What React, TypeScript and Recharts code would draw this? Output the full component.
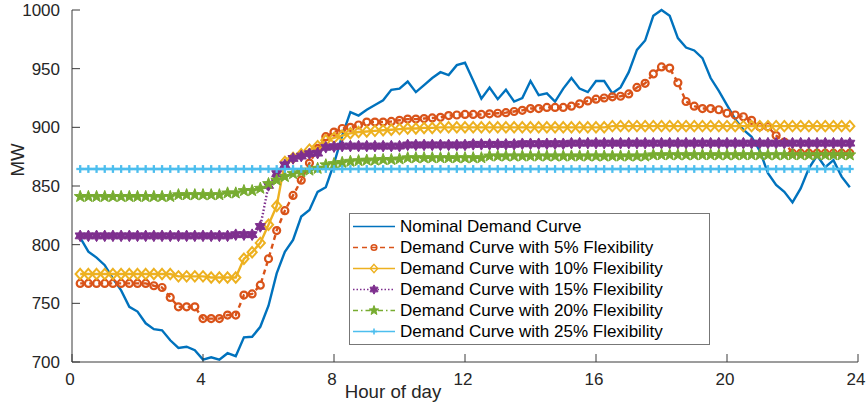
import { ComposedChart, Line, XAxis, YAxis, Legend, Label } from "recharts"

// 15-minute samples
const hours = [
	0.25, 0.5, 0.75, 1, 1.25, 1.5, 1.75, 2, 2.25, 2.5, 2.75, 3, 3.25, 3.5, 3.75, 4,
	4.25, 4.5, 4.75, 5, 5.25, 5.5, 5.75, 6, 6.25, 6.5, 6.75, 7, 7.25, 7.5, 7.75, 8,
	8.25, 8.5, 8.75, 9, 9.25, 9.5, 9.75, 10, 10.25, 10.5, 10.75, 11, 11.25, 11.5, 11.75, 12,
	12.25, 12.5, 12.75, 13, 13.25, 13.5, 13.75, 14, 14.25, 14.5, 14.75, 15, 15.25, 15.5, 15.75, 16,
	16.25, 16.5, 16.75, 17, 17.25, 17.5, 17.75, 18, 18.25, 18.5, 18.75, 19, 19.25, 19.5, 19.75, 20,
	20.25, 20.5, 20.75, 21, 21.25, 21.5, 21.75, 22, 22.25, 22.5, 22.75, 23, 23.25, 23.5, 23.75,
]

const nominal = [
	806, 794, 789, 782.5, 771, 761, 747, 743, 733, 728, 727, 718.5, 712, 713, 710, 702,
	704, 702, 707.5, 705, 721, 721.5, 730, 748, 775.5, 794, 804, 824, 829.5, 845, 849, 869,
	893, 913, 910, 915, 919, 923, 932, 933, 939, 930, 936, 942, 947, 944.5, 953, 955,
	940, 924.5, 934, 924, 932, 922, 925, 939.5, 927.5, 929, 922, 933, 942, 933, 930, 939.5,
	939.5, 929, 934, 947, 966, 974, 995, 1000, 995, 976, 968, 965.5, 959, 942, 931, 919,
	907, 898, 892, 880, 861, 851, 845, 836, 848, 865, 876, 866, 872, 858, 849,
]

const flex5 = [
	767, 767, 767, 767, 767, 767, 767, 767, 767, 765, 763.5, 755, 747, 747, 747, 737,
	737, 737, 740, 740, 757, 758, 765.5, 788, 812, 829, 842, 855, 869.5, 882, 892, 896,
	899, 900, 902, 904.5, 904.5, 904.5, 905, 906, 907, 907, 907.5, 908, 908.5, 910, 910.5, 911,
	911, 911, 911.5, 912, 912.5, 913.5, 914.5, 916, 916, 917, 917, 917, 918, 920, 922.5, 924,
	925, 926, 926.5, 928.5, 934, 937.5, 945.5, 951.5, 950.5, 938, 922, 918, 916, 916, 915, 912,
	910.5, 909, 906, 900.5, 900.5, 893, 887.5, 878, 878, 878, 878, 878, 878, 878, 878,
]

const flex10 = [
	775, 775, 775, 775, 775, 775, 775, 775, 775, 775, 775, 775, 773, 773, 773, 773,
	772, 772, 772, 772, 788, 793.5, 801.5, 817, 833, 870.5, 874, 877, 881, 884, 889, 891,
	893, 895, 896, 896.5, 897, 897.5, 898, 898.5, 899, 899, 899.5, 899.5, 900, 900, 900, 900,
	900, 900, 900, 900, 900, 900, 900, 900, 900, 900, 900, 900, 900, 900, 900, 900,
	900, 901, 901, 901, 901, 901, 901, 901, 901, 901, 901, 901, 901, 901, 901, 901,
	901, 901, 901, 901, 901, 901, 901, 901, 901, 901, 901, 901, 901, 901, 901,
]

const flex15 = [
	807.5, 807.5, 807.5, 807.5, 807.5, 807.5, 807.5, 807.5, 807.5, 807.5, 807.5, 807.5, 807.5, 807.5, 807.5, 807.5,
	807.5, 807.5, 807.5, 808.5, 808.5, 808.5, 815.5, 850.5, 860.5, 868, 873.5, 875.5, 877.5, 878, 883, 883.5,
	884, 884, 884, 884, 884, 884, 884, 884, 885, 885, 885, 885, 885, 885, 885, 885,
	885.5, 885.5, 885.5, 885.5, 885.5, 885.5, 886, 886, 886, 886, 886, 886, 886.5, 886.5, 886.5, 886.5,
	886.5, 886.5, 886.5, 886.5, 886.5, 886.5, 886.5, 886.5, 886.5, 886.5, 886.5, 886.5, 886.5, 886.5, 886.5, 886.5,
	886.5, 886.5, 886.5, 886.5, 886.5, 886.5, 886.5, 886.5, 886.5, 886.5, 886.5, 886.5, 886.5, 886.5, 886.5,
]

const flex20 = [
	841, 841, 841, 841, 841, 841, 841, 841, 841, 841, 841, 841, 842.5, 842.5, 842.5, 842.5,
	842.5, 842.5, 844, 844, 846, 846, 848, 852, 855, 858, 860.5, 862, 863.5, 865, 868, 869,
	870, 871, 871.5, 872, 872, 872.5, 872.5, 873, 874, 874, 874, 874, 874, 874, 874, 874,
	874, 874, 875.5, 875.5, 875.5, 875.5, 875.5, 875.5, 875.5, 875.5, 875.5, 875.5, 875.5, 875.5, 875.5, 875.5,
	875.5, 875.5, 875.5, 875.5, 875.5, 875.5, 876.5, 876.5, 876.5, 876.5, 876.5, 876.5, 876.5, 876.5, 876.5, 876.5,
	876.5, 876.5, 876.5, 876.5, 876.5, 876.5, 876.5, 876.5, 876.5, 876.5, 876.5, 876.5, 876.5, 876.5, 876.5,
]

const flex25 = [
	864.5, 864.5, 864.5, 864.5, 864.5, 864.5, 864.5, 864.5, 864.5, 864.5, 864.5, 864.5, 864.5, 864.5, 864.5, 864.5,
	864.5, 864.5, 864.5, 864.5, 864.5, 864.5, 864.5, 864.5, 864.5, 864.5, 864.5, 864.5, 864.5, 864.5, 864.5, 864.5,
	864.5, 864.5, 864.5, 864.5, 864.5, 864.5, 864.5, 864.5, 864.5, 864.5, 864.5, 864.5, 864.5, 864.5, 864.5, 864.5,
	864.5, 864.5, 864.5, 864.5, 864.5, 864.5, 864.5, 864.5, 864.5, 864.5, 864.5, 864.5, 864.5, 864.5, 864.5, 864.5,
	864.5, 864.5, 864.5, 864.5, 864.5, 864.5, 864.5, 864.5, 864.5, 864.5, 864.5, 864.5, 864.5, 864.5, 864.5, 864.5,
	864.5, 864.5, 864.5, 864.5, 864.5, 864.5, 864.5, 864.5, 864.5, 864.5, 864.5, 864.5, 864.5, 864.5, 864.5,
]

const xTicks = [0, 4, 8, 12, 16, 20, 24]
const yTicks = [700, 750, 800, 850, 900, 950, 1000]

const series = [
	{ key: "nominal", name: "Nominal Demand Curve", color: "#0072BD", dash: undefined, marker: "" },
	{ key: "flex5", name: "Demand Curve with 5% Flexibility", color: "#D95319", dash: "5 4", marker: "circle" },
	{ key: "flex10", name: "Demand Curve with 10% Flexibility", color: "#EDB120", dash: undefined, marker: "diamond" },
	{ key: "flex15", name: "Demand Curve with 15% Flexibility", color: "#7E2F8E", dash: "1.5 2", marker: "hexagram" },
	{ key: "flex20", name: "Demand Curve with 20% Flexibility", color: "#77AC30", dash: "5 3 1.5 3", marker: "pentagram" },
	{ key: "flex25", name: "Demand Curve with 25% Flexibility", color: "#4DBEEE", dash: undefined, marker: "plus" },
]

const data = hours.map((h, i) => ({
	hour: h,
	nominal: nominal[i],
	flex5: flex5[i],
	flex10: flex10[i],
	flex15: flex15[i],
	flex20: flex20[i],
	flex25: flex25[i],
}))

const font = "'Liberation Sans', Arial, sans-serif"
const axisColor = "#3a3a3a"
const textColor = "#262626"

function star(cx, cy, points, outer, inner) {
	const pts = []
	for (let i = 0; i < points * 2; i++) {
		const r = i % 2 === 0 ? outer : inner
		const a = -Math.PI / 2 + (i * Math.PI) / points
		pts.push(`${cx + r * Math.cos(a)},${cy + r * Math.sin(a)}`)
	}
	return pts.join(" ")
}

function Marker({ type, cx, cy, color, scale = 1, sw = 1 }) {
	if (cx == null || cy == null) return null
	const s = scale
	if (type === "circle")
		return <circle cx={cx} cy={cy} r={3.5 * s} fill="none" stroke={color} strokeWidth={2.2 * sw} />
	if (type === "diamond")
		return (
			<path
				d={`M${cx},${cy - 5.2 * s} L${cx + 4.6 * s},${cy} L${cx},${cy + 5.2 * s} L${cx - 4.6 * s},${cy} Z`}
				fill="none"
				stroke={color}
				strokeWidth={2 * sw}
			/>
		)
	if (type === "hexagram")
		return <polygon points={star(cx, cy, 6, 5.8 * s, 3.4 * s)} fill={color} stroke={color} strokeWidth={1} />
	if (type === "pentagram")
		return <polygon points={star(cx, cy, 5, 6.2 * s, 2.6 * s)} fill={color} stroke={color} strokeWidth={1} />
	if (type === "plus")
		return (
			<g stroke={color} strokeWidth={2.3 * sw}>
				<line x1={cx - 3.9 * s} y1={cy} x2={cx + 3.9 * s} y2={cy} />
				<line x1={cx} y1={cy - 3.9 * s} x2={cx} y2={cy + 3.9 * s} />
			</g>
		)
	return null
}

const tickText = { fontFamily: font, fontSize: 17, fill: textColor }
const titleText = { fontFamily: font, fontSize: 18.7, fill: textColor }

function BottomTick({ x, y, payload }) {
	return (
		<g>
			<line x1={x} y1={y} x2={x} y2={y - 8} stroke={axisColor} />
			<text x={x - 2} y={y + 23} textAnchor="middle" {...tickText}>
				{payload.value}
			</text>
		</g>
	)
}

function TopTick({ x, y }) {
	return <line x1={x} y1={y} x2={x} y2={y + 8} stroke={axisColor} />
}

function LeftTick({ x, y, payload }) {
	return (
		<g>
			<line x1={x} y1={y} x2={x + 8} y2={y} stroke={axisColor} />
			<text x={x - 12} y={y + 6} textAnchor="end" {...tickText}>
				{payload.value}
			</text>
		</g>
	)
}

function RightTick({ x, y }) {
	return <line x1={x} y1={y} x2={x - 8} y2={y} stroke={axisColor} />
}

function LegendBox() {
	return (
		<div
			style={{
				width: 359,
				height: 128,
				border: "1px solid #777",
				background: "#fff",
				paddingTop: 2,
				fontFamily: font,
				fontSize: 17,
				color: "#000",
			}}
		>
			{series.map((s) => (
				<div key={s.key} style={{ display: "flex", alignItems: "center", height: 21 }}>
					<svg width={50} height={21} style={{ display: "block" }}>
						<line x1={3} y1={10.5} x2={45} y2={10.5} stroke={s.color} strokeWidth={1.5} strokeDasharray={s.dash} />
						<Marker type={s.marker} cx={24} cy={10.5} color={s.color} scale={0.8} sw={0.7} />
					</svg>
					<span style={{ whiteSpace: "nowrap", lineHeight: "21px" }}>{s.name}</span>
				</div>
			))}
		</div>
	)
}

export default function App() {
	return (
		<div style={{ position: "absolute", left: 0, top: 0 }}>
			<ComposedChart width={866} height={410} data={data} margin={{ top: 10, right: 8, bottom: 0, left: 0 }}>
				<XAxis
					dataKey="hour"
					type="number"
					domain={[0, 24]}
					ticks={xTicks}
					interval={0}
					tickSize={0}
					tickMargin={0}
					height={48}
					axisLine={{ stroke: axisColor }}
					tick={(p) => <BottomTick {...p} />}
				>
					<Label
						content={(p) => {
							const vb = p.viewBox || { x: 72, y: 362, width: 786 }
							return (
								<text x={vb.x + vb.width / 2 - 72} y={vb.y + 36} textAnchor="middle" {...titleText}>
									Hour of day
								</text>
							)
						}}
					/>
				</XAxis>
				<XAxis
					xAxisId="top"
					orientation="top"
					dataKey="hour"
					type="number"
					domain={[0, 24]}
					allowDataOverflow
					ticks={xTicks}
					interval={0}
					tickSize={0}
					tickMargin={0}
					height={0}
					axisLine={{ stroke: axisColor }}
					tick={(p) => <TopTick {...p} />}
				/>
				<YAxis
					type="number"
					domain={[700, 1000]}
					ticks={yTicks}
					interval={0}
					tickSize={0}
					tickMargin={0}
					width={72}
					axisLine={{ stroke: axisColor }}
					tick={(p) => <LeftTick {...p} />}
				>
					<Label
						content={(p) => {
							const vb = p.viewBox || { x: 0, y: 10 }
							const cx = vb.x + 17.5
							const cy = vb.y + 150
							return (
								<text
									x={cx}
									y={cy}
									transform={`rotate(-90 ${cx} ${cy})`}
									textAnchor="middle"
									dominantBaseline="central"
									{...titleText}
								>
									MW
								</text>
							)
						}}
					/>
				</YAxis>
				<YAxis
					yAxisId="right"
					orientation="right"
					type="number"
					domain={[700, 1000]}
					allowDataOverflow
					ticks={yTicks}
					interval={0}
					tickSize={0}
					tickMargin={0}
					width={0}
					axisLine={{ stroke: axisColor }}
					tick={(p) => <RightTick {...p} />}
				/>
				{series.map((s) => (
					<Line
						key={s.key}
						dataKey={s.key}
						name={s.name}
						type="linear"
						stroke={s.color}
						strokeWidth={2.4}
						strokeDasharray={s.dash}
						dot={
							s.marker
								? (p) => <Marker key={`${s.key}-${p.index}`} type={s.marker} cx={p.cx} cy={p.cy} color={s.color} />
								: false
						}
						activeDot={false}
						isAnimationActive={false}
					/>
				))}
				<Legend
					layout="vertical"
					align="center"
					verticalAlign="middle"
					content={() => <LegendBox />}
					wrapperStyle={{ left: 349, top: 213, width: 361, height: 130 }}
				/>
			</ComposedChart>
		</div>
	)
}
